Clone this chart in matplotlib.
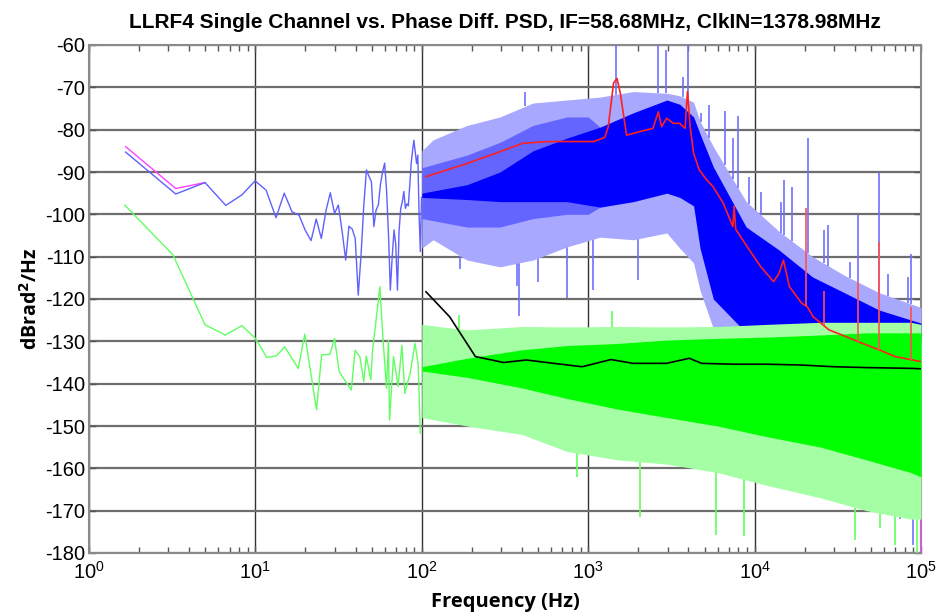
import numpy as np
import matplotlib
matplotlib.use('Agg')
import matplotlib.pyplot as plt
from matplotlib.ticker import LogLocator, NullFormatter

# ---- data ----
# low-frequency part (single points, 1.6 Hz spacing), blue = single channel
lf_blue_f = [1.66, 3.32, 4.98, 6.64, 8.3, 9.96, 11.6, 13.3, 14.9, 16.6, 18.3, 19.9, 21.6, 23.2,
             24.9, 26.6, 28.2, 29.9, 31.5, 33.2, 34.9, 36.5, 38.2, 39.8, 41.5, 43.2, 44.8, 46.5,
             48.1, 49.8, 51.5, 53.1, 54.8, 56.4, 58.1, 59.8, 61.4, 63.1, 64.7, 66.4, 68.1, 69.7,
             71.4, 73.0, 74.7, 76.4, 78.0, 79.7, 81.3, 83.0, 84.7, 86.3, 88.0, 89.6, 91.3, 93.0,
             94.6, 96.3, 98.0, 99.6]
lf_blue_db = [-85.3, -95.2, -92.5, -97.9, -95.4, -92.1, -94.3, -100.8, -95.0, -99.4, -100.2, -103.7,
              -106.2, -101.1, -105.7, -99.0, -94.9, -99.8, -97.8, -104.0, -110.8, -102.8, -103.5,
              -105.7, -119.1, -109.2, -98.0, -89.5, -91.0, -92.3, -102.9, -99.0, -97.8, -93.0,
              -90.0, -87.9, -94.3, -105.0, -117.9, -110.0, -103.7, -107.0, -117.9, -104.0, -98.6,
              -97.0, -94.6, -98.6, -97.5, -98.0, -93.0, -88.0, -85.0, -82.5, -85.2, -88.0, -86.0,
              -100.0, -108.8, -96.0]
lf_mag_f = [1.66, 3.32, 4.98]
lf_mag_db = [-84.0, -93.9, -92.5]

# low-frequency part, green = phase difference
lf_green_f = [1.64, 3.2, 4.98, 6.6, 8.3, 10.0, 11.7, 13.4, 15.0, 18.1, 19.8, 23.3, 25.0, 28.0,
              29.9, 31.9, 37.7, 39.7, 42.4, 44.8, 46.4, 49.4, 50.6, 56.0, 58.5, 61.4, 63.0, 64.0,
              67.6, 72.0, 76.0, 79.0, 85.0, 91.0, 95.0, 98.0]
lf_green_db = [-97.8, -109.6, -126.1, -128.5, -126.3, -129.3, -133.8, -133.4, -131.3, -136.4,
               -128.3, -146.2, -133.2, -133.1, -129.3, -137.2, -141.5, -132.1, -133.6, -139.5,
               -133.5, -139.1, -132.1, -117.1, -129.7, -141.1, -129.7, -148.6, -133.6, -140.7,
               -130.9, -142.3, -137.6, -130.5, -135.2, -151.7]

# dense part above 100 Hz: envelopes of the blue band
band_blue_f = [100, 117, 187, 295, 466, 745, 1180, 1870, 2970, 3550, 4300, 4700, 5650, 8900,
               14000, 22300, 35000, 56000, 100000]
blue_outer_hi = [-85, -82.4, -79, -77, -73.7, -73, -72.3, -71, -71.4, -72, -73.5, -78, -84, -97,
                 -104, -110, -114.5, -118.5, -122]
blue_outer_lo = [-108, -106, -110.8, -112.4, -110.8, -107.7, -105.4, -106, -104.4, -108, -111.5,
                 -118, -127, -132, -135, -135, -135, -135, -135]
# sparse middle layer, 100..1200 Hz
blue_mid_f = [100, 187, 295, 466, 745, 1000, 1180]
blue_mid_hi = [-89, -86, -83, -79, -77, -77, -79.4]
blue_mid_lo = [-101, -103, -103, -101, -100, -100, -98.3]
# solid core
blue_core_f = [100, 187, 295, 466, 745, 1180, 1870, 2970, 3550, 4300, 4700, 5650, 8900, 14000,
               22300, 35000, 56000, 100000]
blue_core_hi = [-95, -93, -90, -85, -82, -79.4, -76, -73, -74, -77, -81, -88.8, -103, -108.4,
                -114.8, -118.6, -122.6, -125.7]
blue_core_lo = [-96, -96.5, -97, -97, -97, -98.3, -97, -95, -96, -98, -108, -120, -128, -130,
                -130, -130, -130, -130]

# dense part above 100 Hz: envelopes of the green band
band_green_f = [100, 187, 400, 745, 1500, 2970, 6000, 11800, 25000, 47000, 87000, 100000]
green_outer_hi = [-126, -127.3, -126.5, -126.6, -126.5, -126.6, -126.5, -126, -125.5, -125.5,
                  -125.5, -126]
green_outer_lo = [-148, -150, -152, -156, -158, -159, -161, -164, -167, -170, -172, -172]
green_core_f = [100, 187, 400, 745, 1500, 2970, 6000, 11800, 25000, 47000, 87000, 100000]
green_core_hi = [-136, -134, -132, -131, -130.5, -129.7, -129.3, -129, -128.5, -128, -128, -128]
green_core_lo = [-137, -138.5, -141, -143.5, -146, -148, -150, -152.5, -155, -158, -161, -162]

# single spikes that stand out of the bands
blue_up_f = [418, 1460, 2620, 2930, 3730, 3980, 4740, 5300, 6600, 7400, 7950, 9200, 11000, 14500,
             15000, 16800, 20800, 26000, 27600, 37500, 42000, 55800, 63000, 83000, 87000]
blue_up_db = [-71, -60, -60, -61.2, -67.5, -60, -76, -74.2, -75.5, -82, -76.8, -91.1, -94.7, -97,
              -92, -93.5, -82, -103.7, -102.5, -111.2, -100.2, -90, -114, -114.7, -109.4]
blue_dn_f = [170, 375, 385, 500, 745, 1070, 2000, 50000, 62000, 75000, 90000]
blue_dn_db = [-113, -117, -124, -116, -119.8, -117.9, -115.5, -170, -168, -172, -178]
green_up_f = [167, 1390]
green_up_db = [-123.8, -122.9]
green_dn_f = [860, 2040, 5900, 8600, 40000, 57000, 70000, 95000]
green_dn_db = [-162, -171.4, -175.7, -176, -177, -174, -178, -180]

# smoothed (averaged) curves
red_f = [106, 187, 295, 405, 590, 1080, 1260, 1320, 1420, 1490, 1560, 1700, 2020, 2450, 2640,
         2760, 2960, 3250, 3550, 3820, 3950, 4100, 4300, 4650, 5160, 5640, 6490, 7400, 7530, 7700,
         9000, 10900, 13000, 14000, 14900, 16200, 19200, 20700, 22500, 28000, 35500, 44600,
         56000, 70000, 100000]
red_db = [-91.1, -88, -85.2, -83.2, -82.8, -82.8, -81.8, -79.3, -69, -67.9, -71.4, -81.3, -80.5,
          -79.7, -75.8, -79.3, -77.3, -78.5, -78.5, -79.7, -71, -79.3, -85.6, -89.5, -91.9, -93.5,
          -97.4, -102.9, -98, -103.5, -107.6, -112.4, -115.9, -114, -110.8, -117.1, -121, -121.8,
          -124.2, -127.3, -128.9, -130.5, -132, -133.6, -134.8]
red_spike_f = [20500, 26000, 42000, 55800, 87000]
red_spike_db = [-98.6, -118, -116, -106.5, -121.8]

black_f = [106, 147, 210, 310, 425, 620, 920, 1370, 1860, 2960, 4050, 4800, 7400, 11900, 19100,
           30000, 47000, 90000, 100000]
black_db = [-118.3, -124.2, -133.6, -135, -134.4, -135.2, -136, -134.3, -135.2, -135.2, -134,
            -135.2, -135.4, -135.4, -135.6, -136, -136.2, -136.4, -136.5]

yticks = list(range(-180, -59, 10))

# ---- plot ----
plt.rcParams['font.family'] = ['Liberation Sans', 'DejaVu Sans']
plt.rcParams['mathtext.default'] = 'regular'
plt.rcParams['axes.unicode_minus'] = False

fig = plt.figure(figsize=(9.36, 6.16), dpi=100)
ax = fig.add_axes([89 / 936, 1 - 553 / 616, 832 / 936, 508 / 616])

def env(fq, vals, f):
    return np.interp(np.log10(f), np.log10(fq), vals)

# magenta under blue, blue band
ax.plot(lf_mag_f, lf_mag_db, color='#ff40ff', lw=1.0, zorder=2)
ax.plot(lf_blue_f, lf_blue_db, color='#6060ff', lw=1.0, zorder=3)
ax.vlines(blue_dn_f, blue_dn_db, env(band_blue_f, blue_outer_lo, blue_dn_f),
          color='#7070ff', lw=1.2, zorder=3)
ax.fill_between(band_blue_f, blue_outer_lo, blue_outer_hi, color='#a8a8ff', lw=0, zorder=3)
ax.fill_between(blue_mid_f, blue_mid_lo, blue_mid_hi, color='#6464ff', lw=0, zorder=3)
ax.fill_between(blue_core_f, blue_core_lo, blue_core_hi, color='#0000ff', lw=0, zorder=3)
ax.vlines(blue_up_f, env(band_blue_f, blue_outer_hi, blue_up_f), blue_up_db,
          color='#7070ff', lw=1.2, zorder=3)
ax.vlines([99500], -180, -128, color='#ff40ff', lw=1.5, zorder=3)

# green band
ax.plot(lf_green_f, lf_green_db, color='#60ff60', lw=1.0, zorder=4)
ax.vlines(green_dn_f, green_dn_db, env(band_green_f, green_outer_lo, green_dn_f),
          color='#60ff60', lw=1.2, zorder=4)
ax.fill_between(band_green_f, green_outer_lo, green_outer_hi, color='#a4ffa4', lw=0, zorder=4)
ax.fill_between(green_core_f, green_core_lo, green_core_hi, color='#00ff00', lw=0, zorder=4)
ax.vlines(green_up_f, env(band_green_f, green_outer_hi, green_up_f), green_up_db,
          color='#60ff60', lw=1.2, zorder=4)

# averaged curves
ax.plot(red_f, red_db, color='#ff2020', lw=1.2, zorder=5)
ax.vlines(red_spike_f, env(red_f, red_db, red_spike_f), red_spike_db, color='#ff5050', lw=1.2, zorder=5)
ax.plot(black_f, black_db, color='black', lw=1.2, zorder=6)

ax.set_xscale('log')
ax.set_xlim(1, 1e5)
ax.set_ylim(-180, -60)
ax.set_yticks(yticks)
ax.xaxis.set_major_locator(LogLocator(base=10, numticks=10))
ax.xaxis.set_minor_locator(LogLocator(base=10, subs=np.arange(2, 10), numticks=100))
ax.xaxis.set_minor_formatter(NullFormatter())

ax.yaxis.grid(True, color='#6e6e6e', lw=1.6, zorder=1)
ax.xaxis.grid(True, which='major', color='#333333', lw=1.0, zorder=1)
ax.set_axisbelow(True)
for s in ax.spines.values():
    s.set_color('#8a8a8a')
    s.set_linewidth(1.5)

ax.tick_params(which='both', direction='in', top=True, right=True, colors='#555555',
               labelcolor='black', labelsize=14.5)
ax.tick_params(which='major', length=5, width=1)
ax.tick_params(which='minor', length=4, width=1)
ax.tick_params(axis='y', pad=3)
ax.tick_params(axis='x', pad=6)

ax.set_title('LLRF4 Single Channel vs. Phase Diff. PSD, IF=58.68MHz, ClkIN=1378.98MHz',
             fontsize=15, fontweight='bold', pad=12)
ax.set_xlabel('Frequency (Hz)', fontsize=14.5, fontweight='bold', family=['Open Sans', 'DejaVu Sans'],
              labelpad=6)
ax.set_ylabel(r'dBrad$^\mathbf{2}$/Hz', fontsize=14, fontweight='bold',
              family=['Open Sans', 'DejaVu Sans'], labelpad=2)

fig.savefig('out.png', dpi=100)
